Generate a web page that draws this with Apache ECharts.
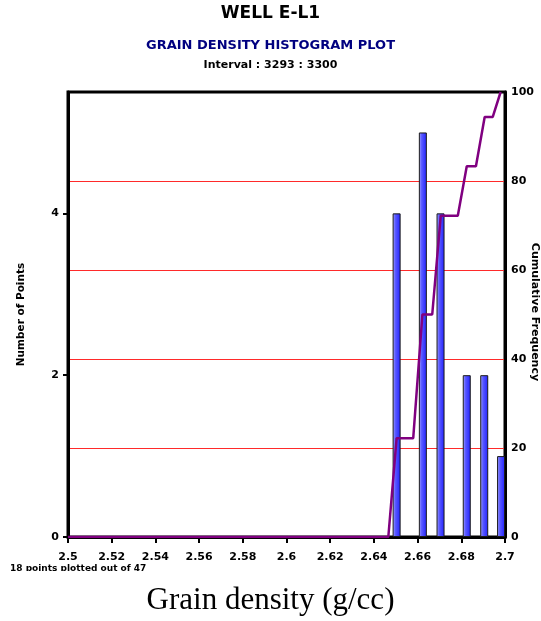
<!DOCTYPE html>
<html>
<head>
<meta charset="utf-8">
<script src="https://cdn.jsdelivr.net/npm/echarts@6/dist/echarts.min.js"></script>
<style>
  html, body { margin: 0; padding: 0; background: #fff; }
  #chart { width: 541px; height: 621px; }
</style>
</head>
<body>
<div id="chart"></div>
<script>
// Histogram bins: centre of each grain-density bin (g/cc) and the count in it
const binCenters = [2.6504, 2.6624, 2.6705, 2.6825, 2.6905, 2.6982];
const counts = [4, 5, 4, 2, 2, 1];

// Cumulative frequency (%) stepped line
const cumX = [2.5, 2.6466, 2.6504, 2.6580, 2.6622, 2.6667, 2.6706, 2.6784, 2.6825, 2.6867, 2.6907, 2.6944, 2.6980];
const cumY = [0, 0, 22.2, 22.2, 50, 50, 72.2, 72.2, 83.3, 83.3, 94.4, 94.4, 100];

const xTicks = { min: 2.5, max: 2.7, step: 0.02 };
const countTicks = [0, 2, 4];
const freqTicks = { min: 0, max: 100, step: 20 };

const chart = echarts.init(document.getElementById('chart'));
const bold = { fontFamily: 'DejaVu Sans', fontWeight: 'bold', color: '#000' };

chart.setOption({
  animation: false,
  backgroundColor: '#fff',
  grid: {
    left: 68, right: 36, top: 92, bottom: 84,
    outerBoundsMode: 'none', containLabel: false,
    show: true, borderColor: '#000', borderWidth: 3, backgroundColor: 'transparent'
  },
  xAxis: {
    type: 'value',
    min: xTicks.min, max: xTicks.max, interval: xTicks.step,
    axisLine: { show: true, lineStyle: { color: '#000', width: 3 } },
    axisTick: { show: true, inside: false, length: 6, lineStyle: { color: '#000', width: 2 } },
    axisLabel: Object.assign({ fontSize: 11, margin: 15,
      formatter: v => String(parseFloat(v.toFixed(2))) }, bold),
    splitLine: { show: false }
  },
  yAxis: [
    {
      type: 'value', min: 0, max: 5.5,
      name: 'Number of Points', nameLocation: 'middle', nameGap: 41, nameRotate: 90,
      nameTextStyle: Object.assign({ fontSize: 10.5 }, bold),
      axisLine: { show: true, lineStyle: { color: '#000', width: 3 } },
      axisTick: { show: true, length: 5, customValues: countTicks, lineStyle: { color: '#000', width: 2 } },
      axisLabel: Object.assign({ fontSize: 11, margin: 9, customValues: countTicks }, bold),
      splitLine: { show: false }
    },
    {
      type: 'value', position: 'right',
      min: freqTicks.min, max: freqTicks.max, interval: freqTicks.step,
      axisLine: { show: true, lineStyle: { color: '#000', width: 3 } },
      axisTick: { show: false },
      axisLabel: Object.assign({ fontSize: 11, margin: 6 }, bold),
      splitLine: { show: true, showMaxLine: false, lineStyle: { color: '#ff2a2a', width: 1 } }
    }
  ],
  series: [
    {
      type: 'bar',
      yAxisIndex: 0,
      barWidth: 8,
      data: binCenters.map((x, i) => [x, counts[i]]),
      itemStyle: {
        color: {
          type: 'linear', x: 0, y: 0, x2: 1, y2: 0,
          colorStops: [
            { offset: 0, color: '#a8a8ff' },
            { offset: 0.35, color: '#5a5aff' },
            { offset: 1, color: '#2020ff' }
          ]
        },
        borderColor: '#1a1a1a', borderWidth: 1
      },
      z: 2
    },
    {
      type: 'line',
      yAxisIndex: 1,
      data: cumX.map((x, i) => [x, cumY[i]]),
      showSymbol: false,
      symbol: 'none',
      lineStyle: { color: '#800080', width: 2.5 },
      z: 5
    }
  ],
  graphic: [
    { type: 'text', left: 'center', top: 5,
      style: { text: 'WELL E-L1', font: 'bold 17px "DejaVu Sans"', fill: '#000' } },
    { type: 'text', left: 'center', top: 39,
      style: { text: 'GRAIN DENSITY HISTOGRAM PLOT', font: 'bold 13px "DejaVu Sans"', fill: '#000080' } },
    { type: 'text', left: 'center', top: 60,
      style: { text: 'Interval : 3293 : 3300', font: 'bold 11px "DejaVu Sans"', fill: '#000' } },
    // right-hand axis title, reading top to bottom
    { type: 'text', x: 535, y: 312, rotation: -Math.PI / 2,
      style: { text: 'Cumulative Frequency', font: 'bold 11px "DejaVu Sans"', fill: '#000',
               align: 'center', verticalAlign: 'middle' } },
    { type: 'text', left: 10, top: 564,
      style: { text: '18 points plotted out of 47', font: 'bold 9px "DejaVu Sans"', fill: '#000' } },
    { type: 'rect', left: 0, top: 571, z: 100,
      shape: { width: 160, height: 12 }, style: { fill: '#fff' } },
    { type: 'text', left: 'center', top: 585,
      style: { text: 'Grain density (g/cc)', font: '31px "Liberation Serif"', fill: '#000' } }
  ]
});
</script>
</body>
</html>
